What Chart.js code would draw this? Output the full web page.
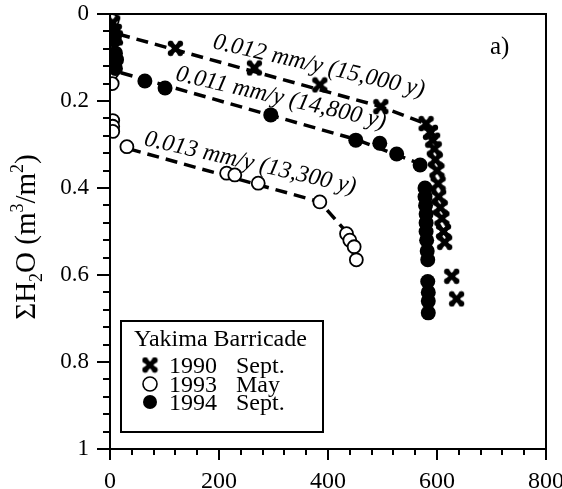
<!DOCTYPE html>
<html><head><meta charset="utf-8">
<script src="https://cdn.jsdelivr.net/npm/chart.js@4/dist/chart.umd.min.js"></script>
<style>html,body{margin:0;padding:0;background:#fff}#c{display:block}</style>
</head><body><canvas id="c" width="562" height="489"></canvas>
<script>
// ---- data (x axis value, y: ΣH2O m3/m2) ----
const s1990x = [5, 8, 10, 120, 265, 385, 497, 580, 588, 592, 595, 597, 600, 602, 603, 606, 609, 612, 614, 627, 636];
const s1990y = [0.02, 0.04, 0.055, 0.079, 0.124, 0.163, 0.213, 0.252, 0.272, 0.29, 0.31, 0.335, 0.36, 0.39, 0.42, 0.445, 0.47, 0.5, 0.525, 0.603, 0.655];
const s1993x = [4, 2, 3, 4, 5, 5, 5, 31, 214, 229, 272, 385, 434, 440, 448, 452];
const s1993y = [0.015, 0.1, 0.135, 0.16, 0.245, 0.258, 0.27, 0.305, 0.366, 0.37, 0.389, 0.432, 0.505, 0.52, 0.535, 0.565];
const s1994x = [6, 8, 10, 12, 10, 64, 101, 295, 451, 495, 526, 569, 578, 578, 579, 580, 580, 580, 581, 582, 583, 583, 584, 584, 584];
const s1994y = [0.04, 0.06, 0.09, 0.105, 0.125, 0.154, 0.17, 0.232, 0.29, 0.297, 0.322, 0.347, 0.40, 0.42, 0.44, 0.46, 0.48, 0.50, 0.52, 0.545, 0.565, 0.615, 0.64, 0.66, 0.687];
// fitted trend lines
const fit1990x = [15, 497, 575];
const fit1990y = [0.046, 0.213, 0.25];
const fit1994x = [20, 450, 570];
const fit1994y = [0.135, 0.288, 0.345];
const fit1993x = [35, 385, 440];
const fit1993y = [0.31, 0.432, 0.51];
// annotation texts and their anchor (data units)
const fitLabels = ['0.012 mm/y (15,000 y)', '0.011 mm/y (14,800 y)', '0.013 mm/y (13,300 y)'];
const fitLabelX = [187, 119, 61];
const fitLabelY = [0.078, 0.152, 0.301];
// ticks
const xTickLabels = [0, 200, 400, 600, 800];
const yTickLabels = [0, 0.2, 0.4, 0.6, 0.8, 1];
const legendTitle = 'Yakima Barricade';
const legendYears = ['1990', '1993', '1994'];
const legendMonths = ['Sept.', 'May', 'Sept.'];

const pts = (xs, ys) => xs.map((v, i) => ({x: v, y: ys[i]}));

// bold X marker
function makeCross(sz) {
  const c = document.createElement('canvas');
  c.width = sz; c.height = sz;
  const g = c.getContext('2d');
  g.strokeStyle = '#000'; g.lineWidth = sz * 0.28; g.lineCap = 'round';
  const m = sz * 0.22;
  g.beginPath();
  g.moveTo(m, m); g.lineTo(sz - m, sz - m);
  g.moveTo(sz - m, m); g.lineTo(m, sz - m);
  g.stroke();
  g.fillStyle = '#000';
  [[m, m], [sz - m, sz - m], [sz - m, m], [m, sz - m]].forEach(([a, b]) => { g.beginPath(); g.arc(a, b, sz * 0.17, 0, 7); g.fill(); });
  return c;
}
const crossImg = makeCross(17);

const serif = '"Liberation Serif", "Times New Roman", serif';

const deco = {
  id: 'deco',
  afterDraw(chart) {
    const {ctx, chartArea: a, scales: {x, y}} = chart;
    ctx.save();
    ctx.strokeStyle = '#000';
    ctx.lineWidth = 2;
    ctx.strokeRect(a.left, a.top, a.right - a.left, a.bottom - a.top);
    // ticks
    ctx.beginPath();
    x.ticks.forEach(t => {
      const px = Math.round(x.getPixelForValue(t.value));
      const major = xTickLabels.includes(Math.round(t.value));
      ctx.moveTo(px, a.bottom); ctx.lineTo(px, a.bottom + (major ? 11 : 6));
    });
    y.ticks.forEach(t => {
      const py = Math.round(y.getPixelForValue(t.value));
      const major = yTickLabels.some(v => Math.abs(v - t.value) < 1e-6);
      ctx.moveTo(a.left, py); ctx.lineTo(a.left - (major ? 13 : 7), py);
    });
    ctx.stroke();
    // fit labels
    ctx.fillStyle = '#000';
    ctx.font = 'italic 24px ' + serif;
    ctx.textAlign = 'left'; ctx.textBaseline = 'alphabetic';
    fitLabels.forEach((txt, i) => {
      ctx.save();
      ctx.translate(x.getPixelForValue(fitLabelX[i]), y.getPixelForValue(fitLabelY[i]));
      ctx.rotate(13 * Math.PI / 180);
      ctx.fillText(txt, 0, 0);
      ctx.restore();
    });
    // panel letter
    ctx.font = '25px ' + serif;
    ctx.fillText('a)', 490, 54);
    // y axis title with sub/superscripts
    ctx.save();
    ctx.translate(35, 237);
    ctx.rotate(-Math.PI / 2);
    const big = '29px ' + serif, small = '18px ' + serif;
    const parts = [['ΣH', big, 0], ['2', small, 7], ['O (m', big, 0], ['3', small, -12], ['/m', big, 0], ['2', small, -12], [')', big, 0]];
    let w = 0;
    parts.forEach(p => { ctx.font = p[1]; w += ctx.measureText(p[0]).width; });
    let cx = -w / 2;
    parts.forEach(p => { ctx.font = p[1]; ctx.fillText(p[0], cx, p[2]); cx += ctx.measureText(p[0]).width; });
    ctx.restore();
    // legend
    ctx.lineWidth = 2;
    ctx.strokeRect(121, 321, 202, 111);
    ctx.font = '24px ' + serif;
    ctx.fillText(legendTitle, 134, 346);
    const rowY = [365, 384, 402];
    legendYears.forEach((yr, i) => {
      const cy = rowY[i];
      if (i === 0) ctx.drawImage(crossImg, 150 - 8.5, cy - 8.5);
      else {
        ctx.beginPath(); ctx.arc(150, cy, 7, 0, Math.PI * 2);
        if (i === 1) { ctx.fillStyle = '#fff'; ctx.fill(); ctx.lineWidth = 1.6; ctx.stroke(); }
        else { ctx.fillStyle = '#000'; ctx.fill(); }
      }
      ctx.fillStyle = '#000';
      ctx.font = '24px ' + serif;
      ctx.fillText(yr, 169, cy + 8);
      ctx.fillText(legendMonths[i], 236, cy + 8);
    });
    ctx.restore();
  }
};

const lineDs = (xs, ys) => ({
  type: 'line', data: pts(xs, ys), borderColor: '#000', borderWidth: 3.5, borderDash: [12, 7],
  pointRadius: 0, fill: false, tension: 0, order: 3, showLine: true
});

new Chart(document.getElementById('c'), {
  type: 'scatter',
  data: {
    datasets: [
      lineDs(fit1990x, fit1990y),
      lineDs(fit1994x, fit1994y),
      lineDs(fit1993x, fit1993y),
      {label: '1994 Sept.', data: pts(s1994x, s1994y), pointStyle: 'circle', pointRadius: 7.5, backgroundColor: '#000', borderColor: '#000', borderWidth: 0, order: 1},
      {label: '1993 May', data: pts(s1993x, s1993y), pointStyle: 'circle', pointRadius: 6.5, backgroundColor: '#fff', borderColor: '#000', borderWidth: 1.8, order: 2},
      {label: '1990 Sept.', data: pts(s1990x, s1990y), pointStyle: crossImg, pointRadius: 8, backgroundColor: '#000', borderColor: '#000', order: 0}
    ]
  },
  options: {
    responsive: false, animation: false, devicePixelRatio: 1,
    layout: {padding: {top: 14, right: 16, left: 0, bottom: 0}},
    plugins: {legend: {display: false}, tooltip: {enabled: false}},
    scales: {
      x: {
        type: 'linear', min: 0, max: 800,
        afterFit: s => { s.height = 40; s.paddingLeft = 0; s.paddingRight = 0; },
        ticks: {stepSize: 40, autoSkip: false, maxRotation: 0, padding: 7, color: '#000',
          font: {family: serif, size: 24},
          callback: v => xTickLabels.includes(Math.round(v)) ? String(Math.round(v)) : ''},
        grid: {drawOnChartArea: false, drawTicks: true, tickLength: 11, color: 'rgba(0,0,0,0)'},
        border: {display: false}
      },
      y: {
        type: 'linear', min: 0, max: 1, reverse: true,
        afterFit: s => { s.width = 110; s.paddingTop = 0; s.paddingBottom = 0; },
        ticks: {stepSize: 0.04, autoSkip: false, padding: 8, color: '#000',
          font: {family: serif, size: 23},
          callback: v => { const m = yTickLabels.find(t => Math.abs(t - v) < 1e-6); return m === undefined ? '' : (m === 0 ? '0' : m === 1 ? '1' : m.toFixed(1)); }},
        grid: {drawOnChartArea: false, drawTicks: true, tickLength: 13, color: 'rgba(0,0,0,0)'},
        border: {display: false}
      }
    }
  },
  plugins: [deco]
});
</script>
</body></html>
